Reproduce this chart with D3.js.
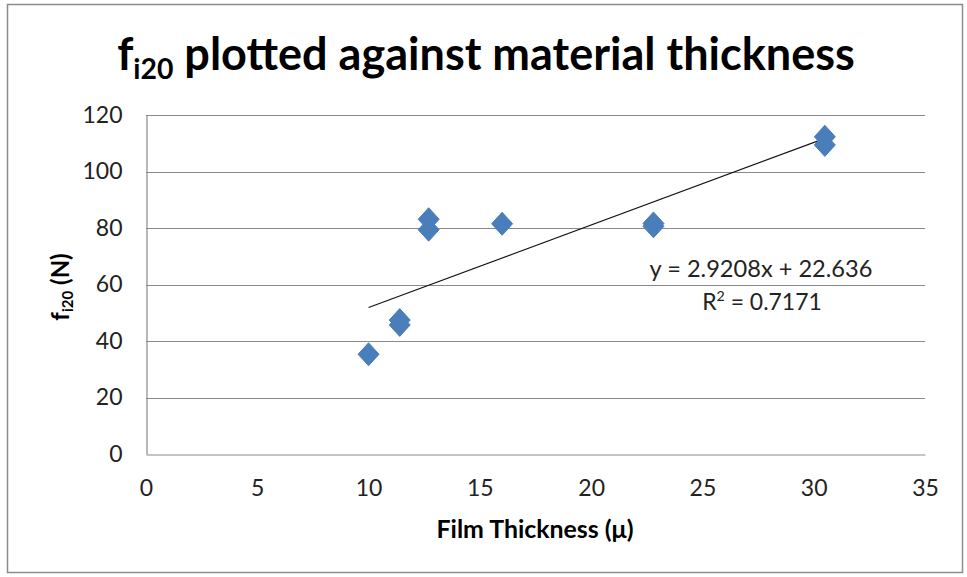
<!DOCTYPE html>
<html><head><meta charset="utf-8">
<script src="https://cdn.jsdelivr.net/npm/d3@7"></script>
<style>body{margin:0;background:#fff}svg{display:block}</style>
</head><body>
<svg id="c" width="967" height="577"></svg>
<script>
const thickness = [10, 11.4, 11.4, 12.7, 12.7, 16.0, 22.8, 22.8, 30.5, 30.5];
const fi20      = [35.3, 47.4, 45.7, 83.1, 79.4, 81.5, 81.6, 80.6, 112.3, 109.4];
const xTicks = [0, 5, 10, 15, 20, 25, 30, 35];
const yTicks = [0, 20, 40, 60, 80, 100, 120];
const trendSlope = [2.9208];
const trendIntercept = [22.636];
const trendLabels = ["y = 2.9208x + 22.636", "R² = 0.7171"];

const svg = d3.select("#c");
const font = "Lato, 'Open Sans', sans-serif";
const m = {l:146, r:925, t:115, b:454};

function fit(sel, base, target){
  const w = sel.node().getComputedTextLength();
  const s = base*target/w;
  sel.attr("font-size", s);
  sel.selectAll("tspan.sub").attr("font-size", s*0.63);
  return s;
}

svg.append("rect").attr("x",7.5).attr("y",4.5).attr("width",955).attr("height",568)
  .attr("fill","#fff").attr("stroke","#8c8c8c").attr("stroke-width",1.5);

const x = d3.scaleLinear().domain([0,35]).range([m.l,m.r]);
const y = d3.scaleLinear().domain([0,120]).range([m.b,m.t]);

// gridlines
svg.append("g").selectAll("line").data(yTicks.filter(d=>d>0)).join("line")
  .attr("x1",m.l).attr("x2",m.r).attr("y1",d=>Math.round(y(d))+0.5).attr("y2",d=>Math.round(y(d))+0.5)
  .attr("stroke","#8a8a8a").attr("stroke-width",1);

// axes
const gx = svg.append("g").attr("transform",`translate(0,${Math.round(m.b)+0.5})`)
  .call(d3.axisBottom(x).tickValues(xTicks).tickSize(0).tickPadding(25));
const gy = svg.append("g").attr("transform",`translate(${m.l+0.5},0)`)
  .call(d3.axisLeft(y).tickValues(yTicks).tickSize(0).tickPadding(24));
[gx,gy].forEach(g=>{
  g.attr("font-size",null).attr("font-family",null);
  g.select(".domain").attr("stroke","#8a8a8a").attr("stroke-width",1.2);
  g.selectAll("text").attr("font-family",font).style("font-size","23px").attr("fill","#222");
});

// trend line
const xr = d3.extent(thickness);
svg.append("line")
  .attr("x1",x(xr[0])).attr("y1",y(trendSlope[0]*xr[0]+trendIntercept[0]))
  .attr("x2",x(xr[1])).attr("y2",y(trendSlope[0]*xr[1]+trendIntercept[0]))
  .attr("stroke","#111").attr("stroke-width",1.1);

// points
const pts = thickness.map((t,i)=>({x:t,y:fi20[i]}));
svg.append("g").selectAll("path").data(pts).join("path")
  .attr("transform",d=>`translate(${x(d.x)},${y(d.y)})`)
  .attr("d","M0,-11.5L10.5,0L0,11.5L-10.5,0Z")
  .attr("fill","#4a7ebb").attr("stroke","#4a7ebb").attr("stroke-width",1).attr("stroke-linejoin","round");

// trend labels
const eq = svg.append("text").attr("x",761).attr("y",277).attr("text-anchor","middle")
  .attr("font-family",font).attr("font-size",20).attr("fill","#222").text(trendLabels[0]);
fit(eq,20,223);
const r2 = svg.append("text").attr("x",762).attr("y",310).attr("text-anchor","middle")
  .attr("font-family",font).attr("font-size",20).attr("fill","#222");
r2.append("tspan").text("R");
r2.append("tspan").attr("class","sup").attr("dy",-9).attr("font-size",13).text("2");
r2.append("tspan").attr("dy",9).text(" = 0.7171");
const rs = fit(r2,20,120);
r2.select("tspan.sup").attr("font-size",rs*0.62);

// title
const title = svg.append("text").attr("x",486).attr("y",70).attr("text-anchor","middle")
  .attr("font-family",font).attr("font-weight","bold").attr("font-size",38).attr("fill","#000");
title.append("tspan").text("f");
title.append("tspan").attr("class","sub").attr("dy",9).attr("font-size",24).text("i20");
title.append("tspan").attr("dy",-9).text(" plotted against material thickness");
fit(title,38,738);

// x axis title
const xt = svg.append("text").attr("x",535).attr("y",538).attr("text-anchor","middle")
  .attr("font-family",font).attr("font-weight","bold").attr("font-size",20).attr("fill","#000")
  .text("Film Thickness (μ)");
fit(xt,20,197);

// y axis title
const yt = svg.append("text").attr("transform","translate(69,287) rotate(-90)").attr("text-anchor","middle")
  .attr("font-family",font).attr("font-weight","bold").attr("font-size",20).attr("fill","#000");
yt.append("tspan").text("f");
yt.append("tspan").attr("class","sub").attr("dy",4).attr("font-size",13).text("i20");
yt.append("tspan").attr("dy",-4).text(" (N)");
fit(yt,20,68);
</script>
</body></html>
